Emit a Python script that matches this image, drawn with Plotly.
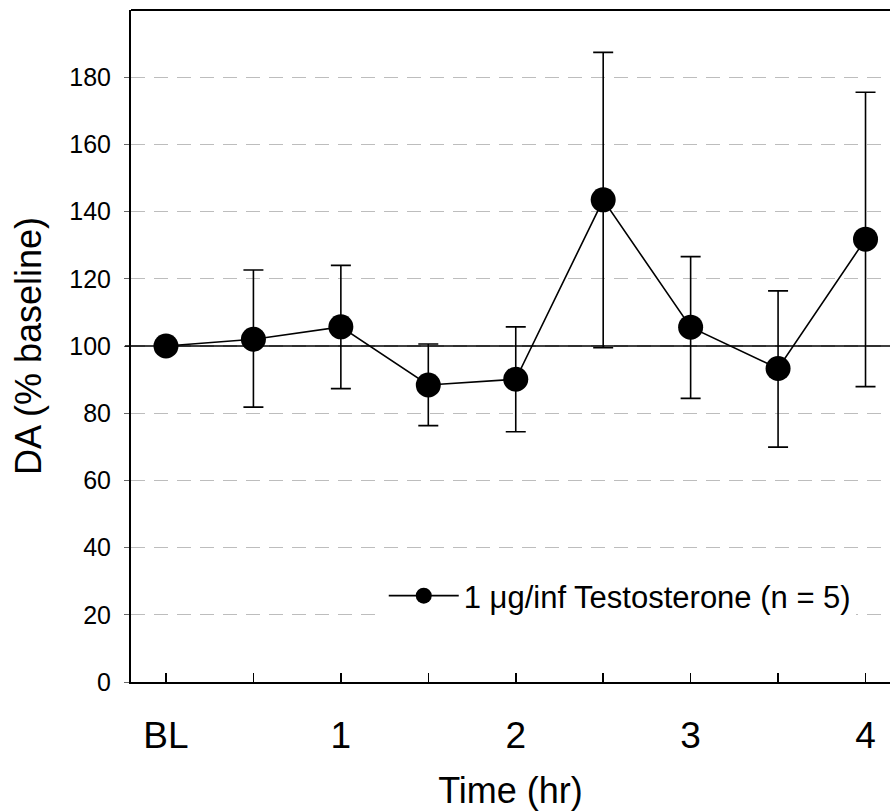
import plotly.graph_objects as go

# Data
time_hr = [0, 0.5, 1, 1.5, 2, 2.5, 3, 3.5, 4]
da_mean = [100, 102, 105.7, 88.4, 90.1, 143.5, 105.6, 93.3, 131.8]
err_plus = [0, 20.6, 18.3, 12.2, 15.6, 43.9, 21.0, 23.1, 43.7]
err_minus = [0, 20.2, 18.4, 12.1, 15.6, 44.0, 21.2, 23.4, 43.9]
series_name = "1 \u03bcg/inf Testosterone (n = 5)"
x_tickvals = [0, 0.5, 1, 1.5, 2, 2.5, 3, 3.5, 4]
x_ticktext = ["BL", "", "1", "", "2", "", "3", "", "4"]
y_tickvals = [0, 20, 40, 60, 80, 100, 120, 140, 160, 180]
baseline_value = 100

FONT = "Liberation Sans, Arial, sans-serif"

fig = go.Figure()
fig.add_trace(go.Scatter(
    x=time_hr, y=da_mean, mode="lines+markers", name=series_name,
    line=dict(color="black", width=1.6),
    marker=dict(color="black", size=25),
    error_y=dict(type="data", symmetric=False, array=err_plus, arrayminus=err_minus,
                 color="black", thickness=1.6, width=10),
))

fig.add_shape(type="line", xref="paper", x0=-0.008, x1=1, yref="y",
              y0=baseline_value, y1=baseline_value, line=dict(color="black", width=1.4),
              layer="above")
fig.add_shape(type="line", xref="paper", x0=0, x1=1, yref="paper", y0=1, y1=1,
              line=dict(color="black", width=2))

fig.update_layout(
    width=890, height=811,
    margin=dict(l=131, r=0, t=10, b=129),
    paper_bgcolor="white", plot_bgcolor="white",
    font=dict(family=FONT, color="black"),
    showlegend=True,
    legend=dict(x=0.333, xanchor="left", y=0.128, yanchor="middle",
                bgcolor="white", borderwidth=0, font=dict(size=31, family=FONT),
                itemwidth=70),
    xaxis=dict(range=[-0.2, 4.14], tickmode="array", tickvals=x_tickvals, ticktext=x_ticktext,
               ticks="inside", ticklen=9, tickwidth=1.5, tickcolor="black",
               showline=True, linecolor="black", linewidth=2, showgrid=False, zeroline=False,
               mirror=False,
               tickfont=dict(size=37, family=FONT), ticklabelstandoff=20, automargin=False,
               title=dict(text="Time (hr)", font=dict(size=36, family=FONT), standoff=25)),
    yaxis=dict(range=[0, 200], tickmode="array", tickvals=y_tickvals,
               ticks="outside", ticklen=5, tickwidth=1, tickcolor="#666",
               showline=True, linecolor="black", linewidth=2, mirror=False,
               showgrid=True, gridcolor="#bdbdbd", gridwidth=1.3, griddash="14px,9px",
               zeroline=False, automargin=False,
               tickfont=dict(size=25, family=FONT), ticklabelstandoff=8,
               title=dict(text="DA (% baseline)", font=dict(size=36, family=FONT), standoff=17)),
)

fig.write_html("out.html", config={"displayModeBar": False, "staticPlot": True},
               post_script="document.documentElement.style.overflow='hidden';document.body.style.margin='0';document.body.style.overflow='hidden';")
